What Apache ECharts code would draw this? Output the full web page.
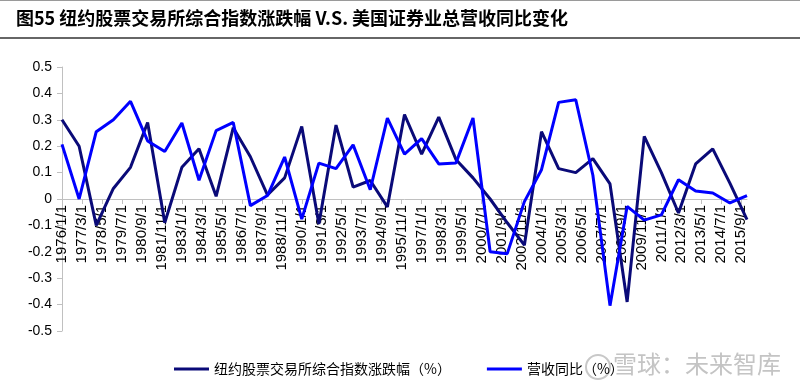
<!DOCTYPE html>
<html>
<head>
<meta charset="utf-8">
<script src="https://cdn.jsdelivr.net/npm/echarts@6/dist/echarts.min.js"></script>
<style>
html,body{margin:0;padding:0;background:#fff;}
#chart{width:800px;height:392px;}
</style>
</head>
<body>
<div id="chart"></div>
<script>
// ---- data ----
const years = [1976,1977,1978,1979,1980,1981,1982,1983,1984,1985,1986,1987,1988,1989,1990,1991,1992,1993,1994,1995,
  1996,1997,1998,1999,2000,2001,2002,2003,2004,2005,2006,2007,2008,2009,2010,2011,2012,2013,2014,2015,2016];
const nyseChange = [0.30,0.20,-0.10,0.04,0.12,0.29,-0.09,0.12,0.19,0.01,0.27,0.16,0.015,0.08,0.275,-0.095,0.28,0.045,0.07,-0.03,
  0.32,0.17,0.31,0.15,0.08,0.0,-0.09,-0.175,0.255,0.115,0.10,0.153,0.057,-0.39,0.237,0.10,-0.053,0.133,0.19,0.06,-0.078];
const revenueYoY = [0.207,0.0,0.255,0.30,0.37,0.22,0.18,0.288,0.071,0.259,0.29,-0.025,0.013,0.159,-0.076,0.136,0.115,0.205,0.035,0.306,
  0.17,0.229,0.133,0.136,0.307,-0.20,-0.207,-0.01,0.111,0.366,0.376,0.09,-0.404,-0.028,-0.08,-0.06,0.073,0.03,0.023,-0.015,0.013];
const xTickLabels = ['1976/1/1','1977/3/1','1978/5/1','1979/7/1','1980/9/1','1981/11/1','1983/1/1','1984/3/1','1985/5/1','1986/7/1',
  '1987/9/1','1988/11/1','1990/1/1','1991/3/1','1992/5/1','1993/7/1','1994/9/1','1995/11/1','1997/1/1','1998/3/1','1999/5/1',
  '2000/7/1','2001/9/1','2002/11/1','2004/1/1','2005/3/1','2006/5/1','2007/7/1','2008/9/1','2009/11/1','2011/1/1','2012/3/1',
  '2013/5/1','2014/7/1','2015/9/1'];
const seriesNames = ['纽约股票交易所综合指数涨跌幅（%）','营收同比（%）'];
const titleText = '图55 纽约股票交易所综合指数涨跌幅 V.S. 美国证券业总营收同比变化';

// months since 1976/1
const BASE = 1976;
const toMonths = s => { const p = s.split('/'); return (+p[0]-BASE)*12 + (+p[1]-1); };
const tickMonths = xTickLabels.map(toMonths);
const labelByMonth = {}; xTickLabels.forEach((s,i)=>labelByMonth[tickMonths[i]] = s);
const yearMonths = years.map(y => (y-BASE)*12);

const Y_MIN = -0.5, Y_MAX = 0.5;
const GRID_TOP = 67, GRID_H = 264, CH = 392;
// axis grid whose bottom edge sits on the value 0 of the main grid
const zeroY = GRID_TOP + GRID_H * (Y_MAX - 0) / (Y_MAX - Y_MIN);

const chart = echarts.init(document.getElementById('chart'), null, {renderer:'canvas'});
chart.setOption({
  animation:false,
  backgroundColor:'#fff',
  graphic:[
    {type:'line', shape:{x1:0,y1:0.5,x2:800,y2:0.5}, style:{stroke:'#9a9a9a', lineWidth:1}},
    {type:'text', left:16, top:9, style:{text:titleText, font:'bold 18px "Noto Sans CJK SC"', fill:'#000'}},
    {type:'line', shape:{x1:0,y1:38,x2:800,y2:38}, style:{stroke:'#333', lineWidth:1.5}},
    {type:'circle', shape:{cx:598,cy:367,r:12}, style:{fill:'none', stroke:'#c8c8c8', lineWidth:2}},
    {type:'text', left:613, top:352, style:{text:'雪球：未来智库', font:'24px "Noto Sans CJK SC"', fill:'#c4c4c4'}}
  ],
  grid:[
    {left:62, right:53, top:GRID_TOP, bottom:CH-GRID_TOP-GRID_H, containLabel:false},
    {left:62, right:53, top:GRID_TOP, bottom:CH-zeroY, containLabel:false}
  ],
  legend:{
    data:seriesNames.map(n=>({name:n, icon:'rect'})), left:169, top:357, itemWidth:35, itemHeight:3, itemGap:36,
    textStyle:{fontFamily:'"Noto Sans CJK SC"', fontSize:14, color:'#000'}
  },
  xAxis:[
    {gridIndex:0, type:'value', min:0, max:480, show:false, splitLine:{show:false}},
    {gridIndex:1, type:'value', min:0, max:480, position:'bottom',
      axisLine:{onZero:false, lineStyle:{color:'#c0c0c0', width:1}},
      axisTick:{show:true, length:5, lineStyle:{color:'#c0c0c0'}, customValues:tickMonths},
      axisLabel:{rotate:90, margin:6, fontFamily:'"Liberation Sans"', fontSize:15, color:'#000',
        customValues:tickMonths, formatter:v => labelByMonth[v] || ''},
      splitLine:{show:false}}
  ],
  yAxis:[
    {gridIndex:0, type:'value', min:Y_MIN, max:Y_MAX, interval:0.1,
      axisLine:{show:true, onZero:false, lineStyle:{color:'#c0c0c0'}},
      axisTick:{show:true, length:5, lineStyle:{color:'#c0c0c0'}},
      axisLabel:{fontFamily:'"Liberation Sans"', fontSize:14, color:'#000', margin:10,
        formatter:v => String(Math.round(v*10)/10)},
      splitLine:{show:false}},
    {gridIndex:1, type:'value', min:0, max:1, show:false, splitLine:{show:false}}
  ],
  series:[
    {name:seriesNames[0], type:'line', symbol:'none', xAxisIndex:0, yAxisIndex:0,
      data:yearMonths.map((m,i)=>[m,nyseChange[i]]),
      lineStyle:{color:'#0a0a78', width:3}, itemStyle:{color:'#0a0a78'}, z:3},
    {name:seriesNames[1], type:'line', symbol:'none', xAxisIndex:0, yAxisIndex:0,
      data:yearMonths.map((m,i)=>[m,revenueYoY[i]]),
      lineStyle:{color:'#0000ff', width:3}, itemStyle:{color:'#0000ff'}, z:4}
  ]
});
</script>
</body>
</html>
